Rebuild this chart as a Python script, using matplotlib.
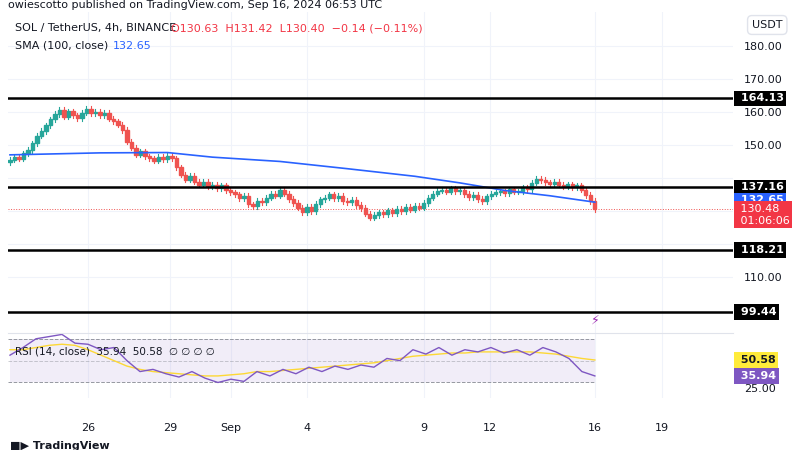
import matplotlib
matplotlib.use("Agg")
import matplotlib.pyplot as plt
from matplotlib.patches import Rectangle
import numpy as np

closes = [145.5,146.2,145.8,147.5,148.5,150.5,152.8,154.2,156.0,157.8,159.4,160.6,
158.6,160.2,159.0,158.2,159.8,160.9,159.6,160.0,159.1,159.7,158.0,157.2,156.1,154.5,
151.0,149.2,147.0,148.1,146.6,146.0,145.2,146.4,145.6,146.8,146.0,143.2,141.0,
139.5,140.6,138.9,138.0,138.8,137.6,138.0,136.9,137.8,136.2,135.6,135.0,133.8,134.6,132.0,
131.4,133.0,132.6,134.0,135.1,134.6,136.4,135.2,133.6,132.4,131.0,129.6,131.2,130.0,
132.1,133.5,134.0,135.0,133.8,134.5,133.0,132.6,133.4,131.8,130.9,129.2,128.0,
128.8,129.6,129.0,130.2,129.4,130.6,130.0,131.2,130.4,131.6,131.0,132.4,134.0,135.2,136.1,136.4,
135.8,136.9,136.0,136.4,135.1,134.2,134.8,133.6,133.0,134.4,135.2,135.6,136.0,
135.3,136.6,135.8,136.0,137.2,136.5,138.6,139.8,139.4,138.7,138.2,138.9,138.0,
137.6,138.1,137.2,137.8,136.4,134.8,133.0,130.48]
first_open = 144.8

sma_idx = [0, 20, 35, 45, 60, 75, 90, 100, 110, 120, 130]
sma_val = [147.0, 147.6, 147.7, 146.3, 145.0, 142.8, 140.5, 138.5, 136.2, 134.6, 132.65]

rsi_val = [55,62,70,72,74,66,65,60,62,50,40,42,38,35,40,34,30,33,31,40,36,42,38,44,
40,45,42,46,44,52,50,60,56,62,55,60,58,62,57,60,55,62,58,52,40,36]
rsi_ma = [60,60,62,64,65,64,60,55,50,45,42,40,39,38,37,36,36,37,38,40,40,41,42,43,
44,45,46,47,48,50,52,54,55,56,57,57,58,58,58,58,58,57,56,54,52,50.58]

levels = [164.13, 137.16, 118.21, 99.44]
price_ticks = [110, 150, 160, 170, 180]
grid_ticks = [110, 120, 130, 140, 150, 160, 170, 180]
day_pos = [17.3, 35.6, 49.1, 66, 92, 106.7, 130, 145]
day_lab = ["26", "29", "Sep", "4", "9", "12", "16", "19"]

W, H = 800, 450
fig = plt.figure(figsize=(W/100, H/100), dpi=100)
plt.rcParams['font.family'] = 'DejaVu Sans'

def px(l, t, r, b):
    return [l/W, 1-b/H, (r-l)/W, (b-t)/H]

ax = fig.add_axes(px(8, 12, 733, 333))
rax = fig.add_axes(px(8, 333, 733, 398), sharex=ax)

xmin, xmax = -0.44, 160.7
n = len(closes)
opens = [first_open] + closes[:-1]
up_c, dn_c = '#26a69a', '#ef5350'
for i in range(n):
    o, c = opens[i], closes[i]
    col = up_c if c >= o else dn_c
    hi = max(o, c) + 0.8
    lo = min(o, c) - 0.8
    ax.plot([i, i], [lo, hi], color=col, lw=0.8, zorder=3)
    ax.add_patch(Rectangle((i-0.35, min(o, c)), 0.7, max(abs(c-o), 0.15), color=col, zorder=4))
ax.plot(sma_idx, sma_val, color='#2962ff', lw=1.2, zorder=5)
for lv in levels:
    ax.axhline(lv, color='black', lw=1.8, zorder=6)
ax.axhline(closes[-1], color=dn_c, lw=0.7, ls=':', zorder=2)
ax.set_xlim(xmin, xmax)
ax.set_ylim(93.0, 190.3)
ax.set_yticks(price_ticks)
for t in grid_ticks:
    ax.axhline(t, color='#f0f3fa', lw=0.8, zorder=0)
for p in day_pos:
    ax.axvline(p, color='#f0f3fa', lw=0.8, zorder=0)
    rax.axvline(p, color='#f0f3fa', lw=0.8, zorder=0)
ax.yaxis.tick_right()
ax.tick_params(axis='y', length=0, labelsize=8, colors='#131722', pad=8)
ax.set_yticklabels([f"{t:.2f}" for t in price_ticks])
ax.tick_params(axis='x', length=0, labelbottom=False)
for s in ax.spines.values():
    s.set_visible(False)

def label(a, y, txt, bg, fg='white'):
    a.text(1.005, y, txt, transform=a.get_yaxis_transform(), ha='left', va='center',
           fontsize=8, color=fg, fontweight='bold',
           bbox=dict(boxstyle='square,pad=0.25', fc=bg, ec='none'), zorder=10)
for lv in levels:
    label(ax, lv, f" {lv:.2f}", 'black')
label(ax, 133.2, f" {sma_val[-1]:.2f}", '#2962ff')
ax.text(1.005, 128.8, f" {closes[-1]:.2f}\n 01:06:06", transform=ax.get_yaxis_transform(),
        ha='left', va='center', fontsize=8, color='white',
        bbox=dict(boxstyle='square,pad=0.25', fc='#f23645', ec='none'), zorder=10)

ax.text(0.01, 0.965, "SOL / TetherUS, 4h, BINANCE", transform=ax.transAxes, fontsize=8, color='#131722', va='top')
ax.text(0.225, 0.965, "O130.63  H131.42  L130.40  \u22120.14 (\u22120.11%)", transform=ax.transAxes, fontsize=8, color='#f23645', va='top')
ax.text(0.01, 0.91, "SMA (100, close)", transform=ax.transAxes, fontsize=8, color='#131722', va='top')
ax.text(0.145, 0.91, "132.65", transform=ax.transAxes, fontsize=8, color='#2962ff', va='top')
fig.text(752/W, 1-25/H, "USDT", fontsize=8, ha='left', va='center', color='#131722',
         bbox=dict(boxstyle='round,pad=0.4', fc='white', ec='#e0e3eb'))
fig.text(8/W, 1-5/H, "owiescotto published on TradingView.com, Sep 16, 2024 06:53 UTC",
         fontsize=8, color='#131722', va='center')
ax.text(130, 97, "\u26a1", fontsize=9, color='#9c27b0', ha='center', va='center')

# RSI
rx = np.arange(len(rsi_val)) * (n-1) / (len(rsi_val)-1)
rax.fill_between([0, n-1], 30, 70, color='#7e57c2', alpha=0.1, lw=0)
frac = (n-1-xmin)/(xmax-xmin)
rax.axhline(70, xmax=frac, color='#9598a1', lw=0.7, ls='--')
rax.axhline(50, xmax=frac, color='#9598a1', lw=0.7, ls='--', alpha=0.5)
rax.axhline(30, xmax=frac, color='#9598a1', lw=0.7, ls='--')
rax.plot(rx, rsi_ma, color='#fdd835', lw=1.0)
rax.plot(rx, rsi_val, color='#7e57c2', lw=1.0)
rax.set_ylim(15.8, 75.3)
rax.set_yticks([25])
rax.yaxis.tick_right()
rax.set_yticklabels(["25.00"])
rax.tick_params(axis='y', length=0, labelsize=8, colors='#131722', pad=8)
label(rax, 50.58, " 50.58", '#ffeb3b', fg='#131722')
label(rax, 35.94, " 35.94", '#7e57c2')
rax.text(0.01, 0.8, "RSI (14, close)  35.94  50.58  \u2205 \u2205 \u2205 \u2205", transform=rax.transAxes,
         fontsize=7.5, color='#131722', va='top')
rax.set_xticks(day_pos)
rax.set_xticklabels(day_lab)
rax.tick_params(axis='x', length=0, labelsize=8, colors='#131722', pad=18)
for s in rax.spines.values():
    s.set_visible(False)
rax.spines['top'].set_visible(True)
rax.spines['top'].set_color('#e0e3eb')
rax.set_xlim(xmin, xmax)
fig.text(10/W, 1-446/H, "\u25a0\u25b6 TradingView", fontsize=8, fontweight='bold', color='#131722', va='center')
fig.savefig("out.png", dpi=100)
